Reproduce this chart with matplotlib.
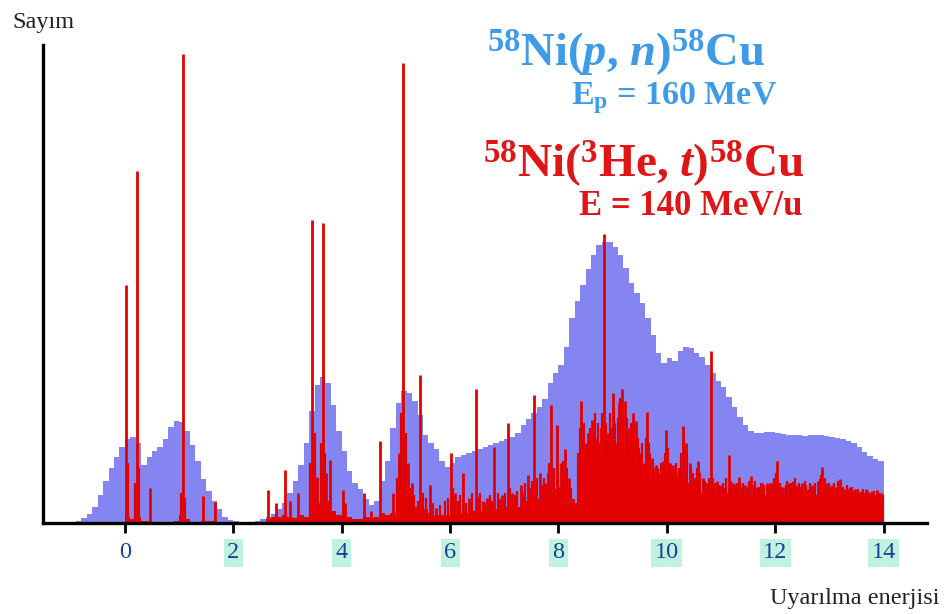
import numpy as np
import matplotlib
matplotlib.use("Agg")
import matplotlib.pyplot as plt

# ---------------- data ----------------
bin_width = 0.1
bin_start = -1.0
# (p,n) spectrum, counts per 0.1 MeV bin from -1.0 to 14.0
pn_counts = [
    0, 2, 5, 9, 16, 28, 42, 55, 66, 76,            # -1.0 .. -0.1
    84, 86, 80, 58, 66, 72, 76, 84, 96, 102,       # 0.0 .. 0.9
    101, 92, 78, 62, 44, 32, 22, 14, 6, 3,         # 1.0 .. 1.9
    2, 1, 0, 0, 2, 4, 6, 9, 14, 20,                # 2.0 .. 2.9
    30, 42, 58, 80, 112, 138, 146, 140, 118, 92,   # 3.0 .. 3.9
    72, 52, 40, 34, 24, 18, 22, 42, 62, 95,        # 4.0 .. 4.9
    120, 132, 130, 122, 108, 88, 80, 74, 62, 56,   # 5.0 .. 5.9
    60, 66, 68, 70, 72, 74, 76, 78, 80, 82,        # 6.0 .. 6.9
    84, 86, 90, 98, 104, 110, 116, 124, 140, 150,  # 7.0 .. 7.9
    158, 176, 205, 222, 238, 254, 268, 278, 281, 281,  # 8.0 .. 8.9
    276, 268, 255, 240, 230, 220, 205, 188, 170, 160,  # 9.0 .. 9.9
    165, 162, 172, 176, 175, 170, 166, 158, 150, 142,  # 10.0 .. 10.9
    136, 126, 116, 106, 98, 92, 90, 90, 91, 91,    # 11.0 .. 11.9
    90, 89, 88, 88, 88, 87, 88, 88, 88, 87,        # 12.0 .. 12.9
    86, 85, 84, 82, 80, 76, 71, 67, 64, 62,        # 13.0 .. 13.9
]

# (3He,t) smooth underlying part per 0.1 MeV bin
het_floor = [
    0, 0, 0, 0, 0, 0, 0, 0, 0, 0,
    6, 4, 6, 2, 2, 1, 1, 1, 1, 2,
    8, 4, 1, 1, 2, 2, 2, 1, 0, 0,
    0, 0, 0, 0, 1, 1, 4, 6, 6, 8,
    6, 5, 8, 6, 14, 20, 16, 22, 12, 8,
    10, 6, 4, 4, 6, 5, 6, 10, 8, 10,
    30, 40, 28, 16, 14, 14, 10, 8, 8, 8,
    12, 10, 10, 10, 12, 12, 12, 13, 14, 14,
    16, 16, 16, 18, 22, 24, 24, 26, 30, 34,
    36, 34, 24, 20, 50, 62, 66, 68, 70, 72,
    72, 74, 70, 64, 56, 44, 46, 44, 40, 36,
    40, 38, 36, 40, 38, 32, 30, 28, 30, 28,
    28, 30, 28, 26, 26, 26, 26, 26, 28, 28,
    30, 26, 26, 30, 30, 28, 26, 28, 30, 32,
    30, 28, 28, 26, 28, 26, 26, 28, 26, 24,
]

# (3He,t) sharp lines: energy (MeV) and height
het_line_energy = [
    0.02, 0.22, 0.46, 1.07, 1.44, 1.66,
    2.65, 2.78, 2.95, 3.05, 3.20, 3.46, 3.55, 3.66, 3.72, 3.78, 4.02, 4.07,
    4.42, 4.55, 4.71, 4.95, 5.05, 5.14, 5.22, 5.30, 5.45, 5.63, 5.75,
    6.02, 6.10, 6.24, 6.35, 6.47, 6.60, 6.68, 6.82, 6.95, 7.07, 7.15,
    7.30, 7.44, 7.55, 7.66, 7.76, 7.87, 7.97, 8.05, 8.12, 8.20,
    8.42, 8.50, 8.55, 8.62, 8.70, 8.78, 8.84, 8.92, 9.00, 9.07,
    9.12, 9.17, 9.23, 9.30, 9.37, 9.43, 9.50, 9.58, 9.64, 9.72,
    9.80, 9.86, 9.93, 9.99, 10.06, 10.12, 10.20, 10.29, 10.35, 10.42,
    10.50, 10.58, 10.66, 10.75, 10.82, 10.92, 11.00, 11.14, 11.22, 11.34,
    11.45, 11.56, 11.66, 11.76, 11.84, 11.90, 12.04, 12.15, 12.25, 12.33,
    12.40, 12.50, 12.60, 12.70, 12.78, 12.87, 12.95, 13.05, 13.12, 13.19,
    13.28, 13.38, 13.48, 13.58, 13.68, 13.78, 13.88, 13.95,
]
het_line_height = [
    238, 352, 35, 469, 27, 21,
    33, 20, 53, 22, 30, 303, 46, 300, 50, 63, 33, 20,
    30, 12, 82, 30, 70, 460, 60, 40, 148, 38, 15,
    70, 30, 50, 25, 134, 22, 25, 76, 28, 100, 30,
    38, 48, 128, 50, 40, 118, 98, 60, 74, 45,
    122, 80, 90, 103, 85, 95, 289, 90, 130, 80,
    120, 134, 122, 95, 110, 102, 70, 60, 111, 65,
    58, 50, 62, 93, 60, 58, 50, 97, 80, 60,
    45, 62, 45, 40, 172, 42, 38, 68, 40, 46,
    38, 47, 36, 40, 40, 40, 62, 36, 40, 42,
    38, 40, 34, 38, 42, 56, 40, 38, 36, 44,
    34, 36, 34, 32, 34, 32, 33, 30,
]

# (3He,t) dense weak lines forming the forest
het_weak_energy = [
    0.06, 0.18, 0.26, 1.03, 1.11, 3.42, 3.50, 3.62, 3.70, 5.10, 5.18,
    5.02, 5.08, 5.26, 5.34, 5.40, 5.50, 5.56, 5.68, 5.82, 5.90, 5.96,
    6.06, 6.14, 6.19, 6.29, 6.40, 6.52, 6.56, 6.64, 6.73, 6.78, 6.88, 6.92,
    7.02, 7.11, 7.19, 7.24, 7.34, 7.38, 7.48, 7.51, 7.60, 7.70, 7.73, 7.80,
    7.83, 7.92, 8.00, 8.08, 8.16, 8.24,
    8.36, 8.40, 8.45, 8.47, 8.53, 8.58, 8.60, 8.65, 8.67, 8.73, 8.75, 8.81,
    8.87, 8.89, 8.95, 8.97, 9.03, 9.05, 9.10, 9.14, 9.20, 9.26, 9.28, 9.33,
    9.35, 9.40, 9.46, 9.48, 9.53, 9.55, 9.61, 9.67, 9.69,
    9.75, 9.77, 9.83, 9.89, 9.91, 9.96, 10.02, 10.04, 10.09, 10.15, 10.17,
    10.23, 10.26, 10.32, 10.38, 10.45, 10.48, 10.53, 10.55, 10.62, 10.70,
    10.78, 10.86, 10.89, 10.96,
    11.03, 11.06, 11.10, 11.18, 11.26, 11.30, 11.38, 11.41, 11.49, 11.52,
    11.60, 11.63, 11.70, 11.73, 11.80, 11.87, 11.94, 11.98, 12.01, 12.08,
    12.11, 12.19, 12.22, 12.29, 12.36, 12.44, 12.47, 12.54, 12.57, 12.64,
    12.67, 12.74, 12.82, 12.84, 12.91, 12.99, 13.02, 13.09, 13.15, 13.22,
    13.25, 13.32, 13.35, 13.42, 13.45, 13.52, 13.55, 13.62, 13.65, 13.72,
    13.75, 13.82, 13.85, 13.92, 13.98,
]
het_weak_height = [
    60, 40, 55, 30, 25, 60, 90, 80, 70, 110, 90,
    45, 55, 35, 28, 22, 30, 25, 20, 18, 22, 25,
    35, 22, 28, 20, 30, 26, 30, 20, 28, 22, 30, 24,
    30, 35, 28, 32, 30, 40, 35, 42, 45, 38, 45, 50,
    60, 55, 50, 62, 55, 35,
    70, 95, 85, 100, 75, 95, 80, 90, 110, 100, 80, 110,
    100, 85, 110, 95, 115, 100, 105, 125, 110, 105, 90, 100,
    88, 95, 85, 75, 65, 80, 85, 80, 70,
    60, 55, 55, 60, 52, 70, 75, 60, 55, 50, 60,
    55, 70, 85, 70, 55, 50, 45, 55, 50, 42,
    45, 45, 40, 38,
    40, 35, 45, 42, 38, 40, 36, 40, 36, 42,
    38, 42, 36, 40, 38, 36, 40, 45, 50, 40,
    36, 38, 42, 40, 45, 40, 36, 42, 38, 40,
    36, 40, 44, 48, 45, 40, 36, 40, 42, 40,
    36, 38, 34, 36, 32, 34, 30, 34, 30, 32,
    30, 32, 28, 30, 28,
]

tick_values = [0, 2, 4, 6, 8, 10, 12, 14]

# ---------------- style ----------------
plt.rcParams['mathtext.fontset'] = 'custom'
plt.rcParams['mathtext.rm'] = 'Liberation Serif:bold'
plt.rcParams['mathtext.it'] = 'Liberation Serif:italic:bold'
plt.rcParams['mathtext.bf'] = 'Liberation Serif:bold'

W, H = 948, 614
fig = plt.figure(figsize=(W / 100, H / 100), dpi=100)
fig.patch.set_facecolor('white')

ax_left, ax_right, ax_top, ax_bottom = 43, 927, 45, 523
ax = fig.add_axes([ax_left / W, 1 - ax_bottom / H,
                   (ax_right - ax_left) / W, (ax_bottom - ax_top) / H])

edges = bin_start + bin_width * np.arange(len(pn_counts) + 1)
blue_col = '#8585f2'
red_col = '#e30000'

ax.stairs(pn_counts, edges, fill=True, color=blue_col, zorder=1)
ax.stairs(het_floor, edges, fill=True, color=red_col, zorder=2)
ax.vlines(het_weak_energy, 0, het_weak_height, color=red_col, lw=1.6, zorder=3)
ax.vlines(het_line_energy, 0, het_line_height, color=red_col, lw=2.0, zorder=3)

ax.set_xlim(-1.51, 14.8)
ax.set_ylim(0, 478)

for s in ['top', 'right']:
    ax.spines[s].set_visible(False)
for s in ['left', 'bottom']:
    ax.spines[s].set_linewidth(2.4)
    ax.spines[s].set_color('black')
    ax.spines[s].set_zorder(5)

ax.set_yticks([])
ax.set_xticks(tick_values)
ax.set_xticklabels([str(v) for v in tick_values])
ax.tick_params(axis='x', direction='out', length=7, width=2, color='black',
               labelcolor='#1f3c9c', labelsize=17.5, pad=7)
for lab in ax.get_xticklabels():
    lab.set_family('Liberation Serif')
    if lab.get_text() != '0':
        lab.set_bbox(dict(facecolor='#bff2df', edgecolor='none', pad=2.5))


def fx(px):
    return px / W


def fy(py):
    return 1 - py / H


fig.text(fx(12), fy(28), 'Sayım', family='Liberation Serif', fontsize=17.5,
         color='#222222', ha='left', va='baseline')
fig.text(fx(940), fy(604), 'Uyarılma enerjisi', family='Liberation Serif',
         fontsize=17.5, color='#222222', ha='right', va='baseline')

blue_txt = '#3d9be8'
red_txt = '#e01515'
fig.text(fx(487), fy(67), r'$^{58}$Ni($p$, $n$)$^{58}$Cu', family='Liberation Serif',
         fontweight='bold', fontsize=33.5, color=blue_txt, ha='left', va='baseline')
fig.text(fx(571), fy(104), r'E$_{\mathrm{p}}$ = 160 MeV', family='Liberation Serif',
         fontweight='bold', fontsize=24.5, color=blue_txt, ha='left', va='baseline')
fig.text(fx(483), fy(177), r'$^{58}$Ni($^{3}$He, $t$)$^{58}$Cu', family='Liberation Serif',
         fontweight='bold', fontsize=34, color=red_txt, ha='left', va='baseline')
fig.text(fx(579), fy(215), r'E = 140 MeV/u', family='Liberation Serif',
         fontweight='bold', fontsize=25, color=red_txt, ha='left', va='baseline')

fig.savefig('out.png', dpi=100, facecolor='white')
